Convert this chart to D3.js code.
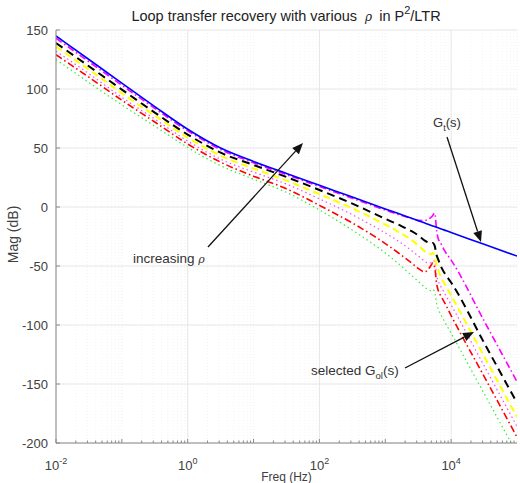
<!DOCTYPE html>
<html><head><meta charset="utf-8">
<script src="https://cdn.jsdelivr.net/npm/d3@7"></script>
<style>
body{margin:0;background:#fff;}
svg{display:block;font-family:"Liberation Sans",Arial,sans-serif;}
</style></head>
<body><svg id="chart" width="520" height="483"></svg>
<script>
// frequency points, as log10(Hz)
const freqExp = [-2,-1.5,-1,-0.5,0,0.5,1,1.5,2,2.5,3,3.2,3.4,3.5,3.6,3.65,3.7,3.72,3.75,3.78,3.8,3.85,3.9,4,4.5,5];
// magnitudes (dB)
const magGt      = [145,125,105,85.1,65.9,50.0,38.6,28.4,18.4,8.4,-1.6,-5.6,-9.6,-11.6,-13.6,-14.6,-15.6,-16.0,-16.6,-17.2,-17.6,-18.6,-19.6,-21.6,-31.6,-41.6];
const magRho1    = [143,123.1,103.2,83.6,64.5,48.7,37.4,27.4,17.4,7.4,-2.6,-6.4,-9.8,-11.3,-11.5,-10.5,-8.5,-7.2,-5.2,-20,-26,-31.5,-37,-45,-96.5,-148];
const magRho2    = [139,119.3,99.5,80,61.4,46,35.6,25.4,14.4,2.9,-10,-15,-20.5,-24,-28.5,-30,-30.8,-30.5,-33,-41,-44,-51,-56,-64,-115,-166];
const magRho3    = [136,116.5,96.5,77.5,58.9,43.5,32.6,22.4,10.9,-1.1,-15,-21,-28,-32.5,-37.5,-39.5,-40,-39,-41,-50,-53,-60,-65,-75,-126.5,-178];
const magRho4    = [132,113,93,74.5,55.9,40.5,29.6,19.4,6.9,-6.6,-22,-29,-37,-41.5,-46,-47.5,-47,-45.5,-46,-58,-62,-68,-73,-83,-134.5,-186];
const magRho5    = [129,110,90.5,72,53.4,38,26.1,15.4,1.4,-13.6,-31,-39,-47.5,-52,-55,-53,-49,-47.5,-51,-65,-70,-76,-81,-92,-143.5,-195];
const magRho6    = [125,105.5,86.5,68.5,50.4,35,23.6,12.4,-2.6,-19.6,-39,-48,-58,-63,-68,-70,-71,-70,-72,-82,-86,-92,-97,-107,-158,-209];
const yTicks = [-200,-150,-100,-50,0,50,100,150];
const xTickExp = [-2,0,2,4];

const series = [
  {name:"rho6", v:magRho6, color:"#33ee33", w:1.2, dash:"1.5,3"},
  {name:"rho5", v:magRho5, color:"#ff0000", w:1.6, dash:"7,3,1.5,3"},
  {name:"rho4", v:magRho4, color:"#ff44ff", w:1.2, dash:"1.5,3"},
  {name:"rho3", v:magRho3, color:"#ffff00", w:2,   dash:"7,4"},
  {name:"rho2", v:magRho2, color:"#000000", w:2,   dash:"8,5"},
  {name:"rho1", v:magRho1, color:"#ff00ff", w:1.6, dash:"7,3,1.5,3"},
  {name:"Gt",   v:magGt,   color:"#0000ff", w:1.6, dash:null}
];

const svg = d3.select("#chart");
const L=56, R=517, T=30, B=443;
const x = d3.scaleLog().domain([1e-2,1e5]).range([L,R]);
const y = d3.scaleLinear().domain([-200,150]).range([B,T]);

// grid
const g = svg.append("g");
for (let e=-2;e<=5;e++){
  const major = xTickExp.includes(e);
  g.append("line").attr("x1",x(10**e)).attr("x2",x(10**e)).attr("y1",T).attr("y2",B)
   .attr("stroke", major?"#e6e6e6":"#eeeeee").attr("stroke-width",1)
   .attr("stroke-dasharray", major?null:"1,2");
  if (e<5) for (let k=2;k<=9;k++){
    g.append("line").attr("x1",x(k*10**e)).attr("x2",x(k*10**e)).attr("y1",T).attr("y2",B)
     .attr("stroke","#f3f3f3").attr("stroke-dasharray","1,2");
  }
}
yTicks.forEach(t=>{
  g.append("line").attr("x1",L).attr("x2",R).attr("y1",y(t)).attr("y2",y(t))
   .attr("stroke","#e6e6e6");
});

// curves
svg.append("clipPath").attr("id","clip").append("rect").attr("x",L).attr("y",T).attr("width",R-L).attr("height",B-T);
const line = d3.line().x(d=>x(10**d[0])).y(d=>y(d[1])).curve(d3.curveMonotoneX);
const cg = svg.append("g").attr("clip-path","url(#clip)");
series.forEach(s=>{
  cg.append("path").datum(freqExp.map((e,i)=>[e,s.v[i]]))
    .attr("d",line).attr("fill","none").attr("stroke",s.color)
    .attr("stroke-width",s.w).attr("stroke-dasharray",s.dash);
});

// axes
const axCol="#8a8a8a", txtCol="#404040";
svg.append("line").attr("x1",L).attr("x2",L).attr("y1",T).attr("y2",B).attr("stroke",axCol);
svg.append("line").attr("x1",L).attr("x2",R).attr("y1",B).attr("y2",B).attr("stroke",axCol);
yTicks.forEach(t=>{
  svg.append("line").attr("x1",L).attr("x2",L+4).attr("y1",y(t)).attr("y2",y(t)).attr("stroke",axCol);
  svg.append("text").attr("x",L-8).attr("y",y(t)+4.5).attr("text-anchor","end")
    .attr("font-size",13).attr("fill",txtCol).text(t);
});
for (let e=-2;e<5;e++){
  svg.append("line").attr("x1",x(10**e)).attr("x2",x(10**e)).attr("y1",B).attr("y2",B-4).attr("stroke",axCol);
  for (let k=2;k<=9;k++){
    svg.append("line").attr("x1",x(k*10**e)).attr("x2",x(k*10**e)).attr("y1",B).attr("y2",B-2.5).attr("stroke",axCol);
  }
}
xTickExp.forEach(e=>{
  const t = svg.append("text").attr("x",x(10**e)).attr("y",470).attr("text-anchor","middle")
    .attr("font-size",13).attr("fill",txtCol);
  t.append("tspan").text("10");
  t.append("tspan").attr("dy",-6).attr("font-size",9).text(e);
});

// axis labels
svg.append("text").attr("x",(L+R)/2).attr("y",481).attr("text-anchor","middle")
  .attr("font-size",12).attr("fill",txtCol).text("Freq (Hz)");
svg.append("text").attr("transform",`translate(18,${(T+B)/2 - 2}) rotate(-90)`).attr("text-anchor","middle")
  .attr("font-size",14).attr("fill",txtCol).text("Mag (dB)");

// title
const title = svg.append("text").attr("x",286).attr("y",21).attr("text-anchor","middle")
  .attr("font-size",14.5).attr("fill","#222");
title.append("tspan").text("Loop transfer recovery with various ");
title.append("tspan").attr("font-family","DejaVu Serif,serif").attr("font-style","italic").attr("font-size",12).attr("dx",4).text("\u03c1");
title.append("tspan").attr("dx",3).text(" in P");
title.append("tspan").attr("dy",-7).attr("font-size",11).text("2");
title.append("tspan").attr("dy",7).text("/LTR");

// annotations
function arrow(x1,y1,x2,y2){
  const ang=Math.atan2(y2-y1,x2-x1), hl=11, hw=4.5;
  const bx=x2-hl*Math.cos(ang), by=y2-hl*Math.sin(ang);
  svg.append("line").attr("x1",x1).attr("y1",y1).attr("x2",bx).attr("y2",by).attr("stroke","#111").attr("stroke-width",1.3);
  const px=-Math.sin(ang)*hw, py=Math.cos(ang)*hw;
  svg.append("path").attr("d",`M${x2},${y2}L${bx+px},${by+py}L${bx-px},${by-py}Z`).attr("fill","#111");
}
arrow(208,247,303,143);
arrow(447,137,481,242);
arrow(405,368,474,332);

const a1 = svg.append("text").attr("x",133).attr("y",263).attr("font-size",13.5).attr("fill","#333");
a1.append("tspan").text("increasing ");
a1.append("tspan").attr("font-family","DejaVu Serif,serif").attr("font-style","italic").attr("font-size",11).text("\u03c1");

const a2 = svg.append("text").attr("x",433).attr("y",127).attr("font-size",13).attr("fill","#333");
a2.append("tspan").text("G");
a2.append("tspan").attr("dy",4).attr("font-size",9).text("t");
a2.append("tspan").attr("dy",-4).text("(s)");

const a3 = svg.append("text").attr("x",311).attr("y",375).attr("font-size",13.5).attr("fill","#333");
a3.append("tspan").text("selected G");
a3.append("tspan").attr("dy",4).attr("font-size",9.5).text("ol");
a3.append("tspan").attr("dy",-4).text("(s)");
</script></body></html>
